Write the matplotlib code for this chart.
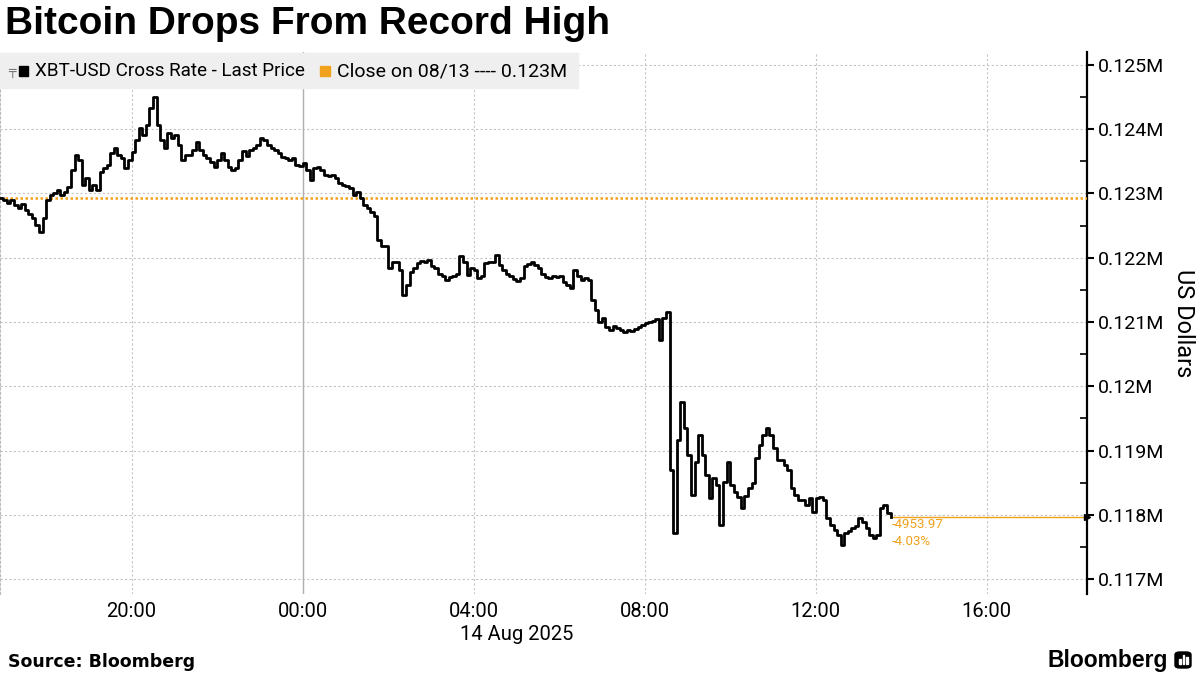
import matplotlib
matplotlib.use("Agg")
import matplotlib.pyplot as plt
import matplotlib.transforms as mtransforms
from matplotlib.patches import Rectangle, FancyBboxPatch
import pandas as pd

plt.rcParams["font.family"] = ["Roboto", "DejaVu Sans"]

# XBT-USD last price, 5-minute steps from 13 Aug 16:55
start = "2025-08-13 16:55"
prices = [
    122930,
    122900, 122850, 122900, 122820, 122780, 122840, 122750, 122680, 122620, 122510, 122400, 122620,  # 17h
    122900, 122980, 123010, 123050, 122980, 123020, 123100, 123370, 123600, 123520, 123130, 123240,  # 18h
    123050, 123130, 123050, 123330, 123400, 123440, 123630, 123710, 123600, 123550, 123400, 123520,  # 19h
    123650, 123830, 124020, 123910, 124070, 124330, 124500, 124070, 123830, 123710, 123940, 123860,  # 20h
    123910, 123750, 123520, 123600, 123600, 123680, 123800, 123680, 123600, 123550, 123490, 123410,  # 21h
    123520, 123630, 123520, 123410, 123360, 123390, 123520, 123660, 123580, 123680, 123710, 123750,  # 22h
    123860, 123830, 123750, 123710, 123680, 123630, 123570, 123550, 123520, 123550, 123440, 123420,  # 23h
    123470, 123360, 123210, 123390, 123410, 123360, 123290, 123270, 123290, 123240, 123160, 123130,  # 00h
    123120, 123090, 122980, 123020, 122930, 122820, 122780, 122710, 122650, 122280, 122180, 122190,  # 01h
    121840, 121930, 121930, 121810, 121420, 121580, 121780, 121840, 121920, 121950, 121930, 121960,  # 02h
    121870, 121840, 121750, 121720, 121650, 121700, 121720, 121750, 122030, 121930, 121730, 121840,  # 03h
    121810, 121680, 121720, 121920, 121930, 121930, 122040, 121880, 121810, 121750, 121720, 121670,  # 04h
    121640, 121680, 121870, 121900, 121930, 121880, 121840, 121750, 121700, 121680, 121720, 121700,  # 05h
    121720, 121620, 121580, 121530, 121810, 121720, 121650, 121680, 121650, 121340, 121190, 121000,  # 06h
    121060, 120920, 120880, 120930, 120900, 120880, 120840, 120880, 120860, 120890, 120920, 120960,  # 07h
    120980, 121000, 121020, 121050, 120720, 121060, 121160, 118700, 117720, 119160, 119750, 119350,  # 08h
    118930, 118310, 118820, 119240, 118930, 118620, 118260, 118570, 118460, 117840, 118510, 118820,  # 09h
    118460, 118350, 118280, 118110, 118290, 118420, 118490, 118890, 119090, 119240, 119350, 119240,  # 10h
    119040, 118850, 118850, 118770, 118700, 118420, 118310, 118230, 118230, 118150, 118260, 118040,  # 11h
    118260, 118280, 118230, 117950, 117840, 117760, 117680, 117530, 117720, 117740, 117800, 117830,  # 12h
    117950, 117880, 117800, 117680, 117640, 117680, 118100, 118150, 118030, 117973,                  # 13h
]
close_prev = 122927.0
change_abs = "-4953.97"
change_pct = "-4.03%"

y_ticks = [117000, 118000, 119000, 120000, 121000, 122000, 123000, 124000, 125000]
x_ticks = ["2025-08-13 20:00", "2025-08-14 00:00", "2025-08-14 04:00",
           "2025-08-14 08:00", "2025-08-14 12:00", "2025-08-14 16:00"]
x_labels = ["20:00", "00:00", "04:00", "08:00", "12:00", "16:00"]

times = pd.date_range(start, periods=len(prices), freq="5min")
orange = "#F0A21C"

fig = plt.figure(figsize=(12, 6.75), dpi=100)
ax = fig.add_axes([0.0, 0.12, 0.906, 0.803])

ax.plot(times, prices, drawstyle="steps-post", color="black", lw=2.0, zorder=4)
ax.axhline(close_prev, color=orange, ls=(0, (1, 1)), lw=1.8, zorder=3)

x_right = pd.Timestamp("2025-08-14 18:21")
ax.hlines(prices[-1], times[-1], x_right, color=orange, lw=1.0, zorder=3)
ax.text(times[-1] + pd.Timedelta("2min"), prices[-1] - 130, change_abs,
        color=orange, fontsize=9.5, va="center", ha="left")
ax.text(times[-1] + pd.Timedelta("2min"), prices[-1] - 390, change_pct,
        color=orange, fontsize=9.5, va="center", ha="left")

ax.set_xlim(pd.Timestamp("2025-08-13 16:55:20"), x_right)
ax.set_ylim(116767, 125202)

ax.set_xticks(pd.to_datetime(x_ticks))
ax.set_xticklabels(x_labels)
ax.set_yticks(y_ticks)
ax.set_yticklabels([("%.3f" % (v / 1e6)).rstrip("0") + "M" for v in y_ticks])
ax.set_yticks([v + 500 for v in y_ticks[:-1]], minor=True)

ax.yaxis.tick_right()
ax.tick_params(axis="y", which="major", direction="out", length=5, width=1.5,
               labelsize=14, pad=3)
ax.tick_params(axis="y", which="minor", direction="in", length=5, width=1.2)
ax.tick_params(axis="x", length=0, labelsize=14.5, pad=6)

for s in ["top", "bottom"]:
    ax.spines[s].set_visible(False)
ax.spines["right"].set_linewidth(1.6)
ax.spines["left"].set_color("#bbbbbb")
ax.spines["left"].set_linestyle((0, (2, 2)))
ax.spines["left"].set_linewidth(0.8)

ax.grid(True, color="#c4c4c4", ls=(0, (2, 2)), lw=0.8)
ax.axvline(pd.Timestamp("2025-08-14 00:00"), color="#b0b0b0", lw=1.0, zorder=2)
ax.set_axisbelow(True)

# last price marker on the axis
trans = mtransforms.blended_transform_factory(ax.transAxes, ax.transData)
ax.plot([1.0], [prices[-1]], marker=">", ms=5, color="black", transform=trans,
        clip_on=False, zorder=6)

ax.yaxis.set_label_position("right")
ax.set_ylabel("US Dollars", fontsize=17, rotation=-90, labelpad=22)

# legend box
fig.patches.append(Rectangle((0.0, 1 - 88 / 675), 578 / 1200, 35 / 675,
                             transform=fig.transFigure, color="#efefef", zorder=5))
fig.patches.append(Rectangle((19 / 1200, 1 - 76 / 675), 9 / 1200, 10 / 675,
                             transform=fig.transFigure, color="black", zorder=6))
fig.patches.append(Rectangle((320 / 1200, 1 - 76 / 675), 10 / 1200, 10 / 675,
                             transform=fig.transFigure, color=orange, zorder=6))
fig.text(8 / 1200, 1 - 71 / 675, "\u2564", fontsize=9, color="#777777",
         va="center", family="DejaVu Sans", zorder=7)
fig.text(35 / 1200, 1 - 71 / 675, "XBT-USD Cross Rate - Last Price", fontsize=13.6,
         va="center", zorder=7)
fig.text(337 / 1200, 1 - 71 / 675, "Close on 08/13 ---- 0.123M", fontsize=14,
         va="center", zorder=7)

fig.text(5 / 1200, 1 - 24 / 675, "Bitcoin Drops From Record High", fontsize=28,
         fontweight="bold", family="Liberation Sans", va="center")
fig.text(517 / 1200, 1 - 634 / 675, "14 Aug 2025", fontsize=14.5, ha="center", va="center")
fig.text(8 / 1200, 1 - 662 / 675, "Source: Bloomberg", fontsize=12.5, fontweight="bold",
         family="DejaVu Sans", va="center")
fig.text(1168 / 1200, 1 - 660 / 675, "Bloomberg", fontsize=16.5, fontweight="bold",
         family="Liberation Sans", ha="right", va="center")
fig.patches.append(FancyBboxPatch((1175 / 1200, 1 - 668 / 675), 16 / 1200, 16 / 675,
                                  boxstyle="round,pad=0,rounding_size=0.004",
                                  transform=fig.transFigure, color="black"))
for i, h in enumerate([5, 9, 7]):
    fig.patches.append(Rectangle(((1179 + i * 3.5) / 1200, 1 - 664 / 675), 1.8 / 1200, h / 675,
                                 transform=fig.transFigure, color="white", zorder=3))

fig.savefig("out.png", dpi=100)
